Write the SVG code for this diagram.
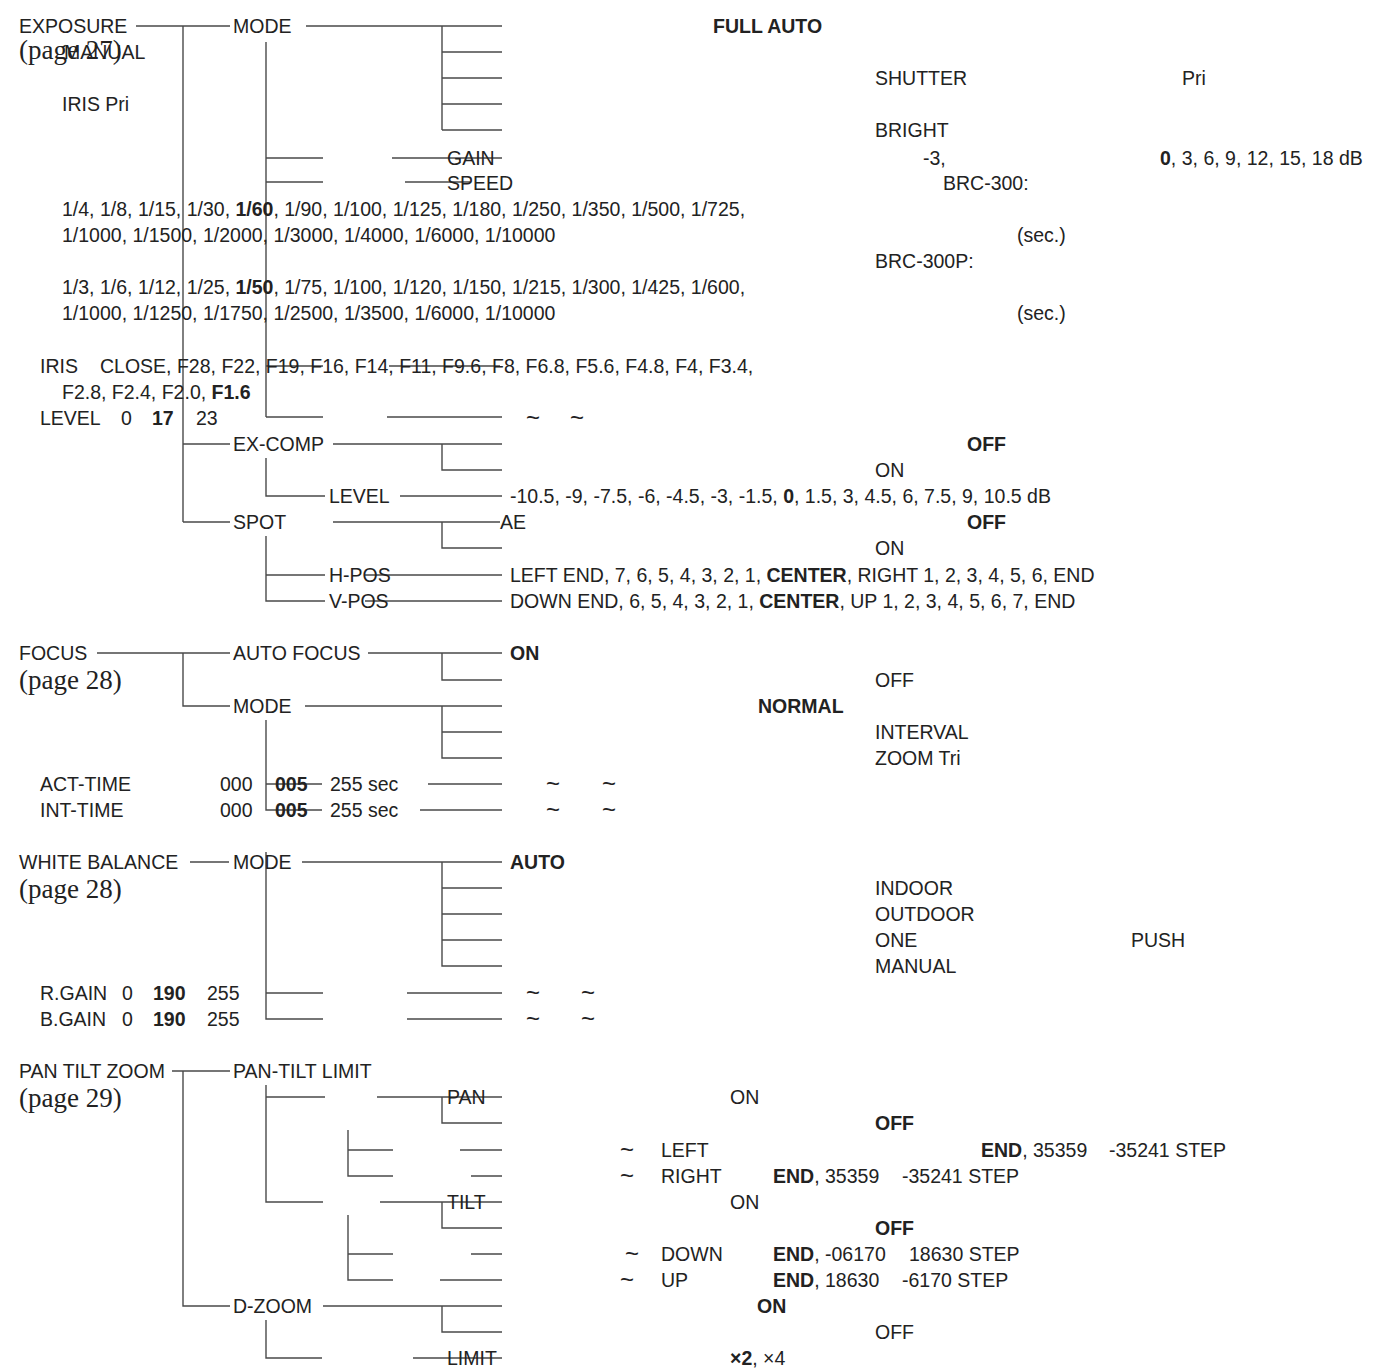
<svg xmlns="http://www.w3.org/2000/svg" width="1376" height="1370" viewBox="0 0 1376 1370">
<style>
text{font-family:"Liberation Sans",Arial,Helvetica,sans-serif;font-size:19.5px;fill:#222}
.b{font-weight:bold}
.s{font-family:"Liberation Serif","Times New Roman",serif;font-size:27px}
.m{text-anchor:middle;font-size:24px}
#connectors path{fill:none;stroke:#4a4a4a;stroke-width:1.4}
</style>
<rect width="1376" height="1370" fill="#fff"/>
<g id="connectors">
<path d="M136,26H230M183,26V522M183,444H230M183,522H230"/>
<path d="M306,26H502M442,26V130M442,52H502M442,78H502M442,104H502M442,130H502"/>
<path d="M266,42V417M266,158H323M392,158H502M266,182H323M405,182H470M266,366H323M389,366H500M266,417H323M387,417H502"/>
<path d="M333,444H502M442,444V470H502M266,458V496H325M400,496H502"/>
<path d="M333,522H500M442,522V548H502M266,536V601H325M266,575H325M365,575H502M365,601H502"/>
<path d="M97,653H230M183,653V706H230M368,653H502M442,653V680H502"/>
<path d="M305,706H502M442,706V758H502M442,732H502M266,720V810H322M266,784H322M428,784H502M420,810H502"/>
<path d="M190,862H229M302,862H502M442,862V966H502M442,888H502M442,914H502M442,940H502"/>
<path d="M266,852V1019H323M266,993H323M407,993H502M407,1019H502"/>
<path d="M172,1071H230M183,1071V1306H230"/>
<path d="M266,1085V1202H323M266,1097H325M377,1097H502M442,1097V1123H502"/>
<path d="M348,1130V1176H393M348,1150H393M460,1150H502M471,1176H502"/>
<path d="M380,1202H502M442,1202V1228H502M348,1215V1280H393M348,1254H393M471,1254H502M440,1280H502"/>
<path d="M323,1306H502M442,1306V1332H502M266,1320V1358H322M413,1358H502"/>
</g>
<g id="exposure">
<text x="19" y="33">EXPOSURE</text>
<text class="s" x="19" y="59">(page 27)</text>
<text x="64" y="59">MANUAL</text>
<text x="62" y="111">IRIS Pri</text>
</g>
<g id="exp-mode">
<text x="233" y="33">MODE</text>
<text class="b" x="713" y="33">FULL AUTO</text>
<text x="875" y="85">SHUTTER</text>
<text x="1182" y="85">Pri</text>
<text x="875" y="137">BRIGHT</text>
</g>
<g id="exp-gain">
<text x="447" y="165">GAIN</text>
<text x="923" y="165">-3,</text>
<text x="1160" y="165"><tspan class="b">0</tspan>, 3, 6, 9, 12, 15, 18 dB</text>
</g>
<g id="exp-speed">
<text x="447" y="190">SPEED</text>
<text x="943" y="190">BRC-300:</text>
<text x="62" y="216">1/4, 1/8, 1/15, 1/30, <tspan class="b">1/60</tspan>, 1/90, 1/100, 1/125, 1/180, 1/250, 1/350, 1/500, 1/725,</text>
<text x="62" y="242">1/1000, 1/1500, 1/2000, 1/3000, 1/4000, 1/6000, 1/10000</text>
<text x="1017" y="242">(sec.)</text>
<text x="875" y="268">BRC-300P:</text>
<text x="62" y="294">1/3, 1/6, 1/12, 1/25, <tspan class="b">1/50</tspan>, 1/75, 1/100, 1/120, 1/150, 1/215, 1/300, 1/425, 1/600,</text>
<text x="62" y="320">1/1000, 1/1250, 1/1750, 1/2500, 1/3500, 1/6000, 1/10000</text>
<text x="1017" y="320">(sec.)</text>
</g>
<g id="exp-iris">
<text x="40" y="373">IRIS</text>
<text x="100" y="373">CLOSE, F28, F22, F19, F16, F14, F11, F9.6, F8, F6.8, F5.6, F4.8, F4, F3.4,</text>
<text x="62" y="399">F2.8, F2.4, F2.0, <tspan class="b">F1.6</tspan></text>
</g>
<g id="exp-level">
<text x="40" y="425">LEVEL</text>
<text x="121" y="425">0</text>
<text class="b" x="152" y="425">17</text>
<text x="196" y="425">23</text>
<text class="m" x="533" y="426">~</text>
<text class="m" x="577" y="426">~</text>
</g>
<g id="exp-excomp">
<text x="233" y="451">EX-COMP</text>
<text class="b" x="967" y="451">OFF</text>
<text x="875" y="477">ON</text>
<text x="329" y="503">LEVEL</text>
<text x="510" y="503">-10.5, -9, -7.5, -6, -4.5, -3, -1.5, <tspan class="b">0</tspan>, 1.5, 3, 4.5, 6, 7.5, 9, 10.5 dB</text>
</g>
<g id="exp-spot">
<text x="233" y="529">SPOT</text>
<text x="500" y="529">AE</text>
<text class="b" x="967" y="529">OFF</text>
<text x="875" y="555">ON</text>
<text x="329" y="582">H-POS</text>
<text x="510" y="582">LEFT END, 7, 6, 5, 4, 3, 2, 1, <tspan class="b">CENTER</tspan>, RIGHT 1, 2, 3, 4, 5, 6, END</text>
<text x="329" y="608">V-POS</text>
<text x="510" y="608">DOWN END, 6, 5, 4, 3, 2, 1, <tspan class="b">CENTER</tspan>, UP 1, 2, 3, 4, 5, 6, 7, END</text>
</g>
<g id="focus">
<text x="19" y="660">FOCUS</text>
<text class="s" x="19" y="689">(page 28)</text>
<text x="233" y="660">AUTO FOCUS</text>
<text class="b" x="510" y="660">ON</text>
<text x="875" y="687">OFF</text>
<text x="233" y="713">MODE</text>
<text class="b" x="758" y="713">NORMAL</text>
<text x="875" y="739">INTERVAL</text>
<text x="875" y="765">ZOOM Tri</text>
</g>
<g id="focus-time">
<text x="40" y="791">ACT-TIME</text>
<text x="220" y="791">000</text>
<text class="b" x="275" y="791">005</text>
<text x="330" y="791">255 sec</text>
<text class="m" x="553" y="792">~</text>
<text class="m" x="609" y="792">~</text>
<text x="40" y="817">INT-TIME</text>
<text x="220" y="817">000</text>
<text class="b" x="275" y="817">005</text>
<text x="330" y="817">255 sec</text>
<text class="m" x="553" y="818">~</text>
<text class="m" x="609" y="818">~</text>
</g>
<g id="white-balance">
<text x="19" y="869">WHITE BALANCE</text>
<text class="s" x="19" y="898">(page 28)</text>
<text x="233" y="869">MODE</text>
<text class="b" x="510" y="869">AUTO</text>
<text x="875" y="895">INDOOR</text>
<text x="875" y="921">OUTDOOR</text>
<text x="875" y="947">ONE</text>
<text x="1131" y="947">PUSH</text>
<text x="875" y="973">MANUAL</text>
</g>
<g id="wb-gain">
<text x="40" y="1000">R.GAIN</text>
<text x="122" y="1000">0</text>
<text class="b" x="153" y="1000">190</text>
<text x="207" y="1000">255</text>
<text class="m" x="533" y="1001">~</text>
<text class="m" x="588" y="1001">~</text>
<text x="40" y="1026">B.GAIN</text>
<text x="122" y="1026">0</text>
<text class="b" x="153" y="1026">190</text>
<text x="207" y="1026">255</text>
<text class="m" x="533" y="1027">~</text>
<text class="m" x="588" y="1027">~</text>
</g>
<g id="pan-tilt-zoom">
<text x="19" y="1078">PAN TILT ZOOM</text>
<text class="s" x="19" y="1107">(page 29)</text>
<text x="233" y="1078">PAN-TILT LIMIT</text>
</g>
<g id="ptz-pan">
<text x="447" y="1104">PAN</text>
<text x="730" y="1104">ON</text>
<text class="b" x="875" y="1130">OFF</text>
<text class="m" x="627" y="1158">~</text>
<text x="661" y="1157">LEFT</text>
<text x="981" y="1157"><tspan class="b">END</tspan>, 35359</text>
<text x="1109" y="1157">-35241 STEP</text>
<text class="m" x="627" y="1184">~</text>
<text x="661" y="1183">RIGHT</text>
<text x="773" y="1183"><tspan class="b">END</tspan>, 35359</text>
<text x="902" y="1183">-35241 STEP</text>
</g>
<g id="ptz-tilt">
<text x="447" y="1209">TILT</text>
<text x="730" y="1209">ON</text>
<text class="b" x="875" y="1235">OFF</text>
<text class="m" x="632" y="1262">~</text>
<text x="661" y="1261">DOWN</text>
<text x="773" y="1261"><tspan class="b">END</tspan>, -06170</text>
<text x="909" y="1261">18630 STEP</text>
<text class="m" x="627" y="1288">~</text>
<text x="661" y="1287">UP</text>
<text x="773" y="1287"><tspan class="b">END</tspan>, 18630</text>
<text x="902" y="1287">-6170 STEP</text>
</g>
<g id="ptz-dzoom">
<text x="233" y="1313">D-ZOOM</text>
<text class="b" x="757" y="1313">ON</text>
<text x="875" y="1339">OFF</text>
<text x="447" y="1365">LIMIT</text>
<text x="730" y="1365"><tspan class="b">×2</tspan>, ×4</text>
</g>
</svg>
